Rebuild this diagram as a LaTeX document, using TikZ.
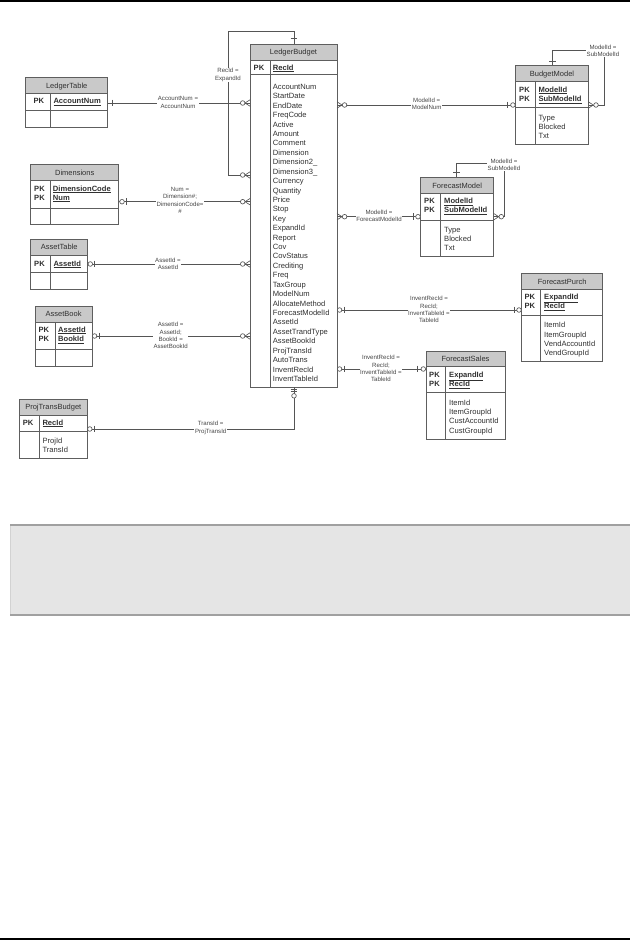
\documentclass[tikz,border=0pt]{standalone}
\usepackage{fontspec}
\setmainfont{Liberation Sans}
\usetikzlibrary{fit}
\definecolor{lnc}{HTML}{555555}
\definecolor{boxc}{HTML}{5E5E5E}
\definecolor{hdrc}{HTML}{C9C9C9}
\definecolor{txtc}{HTML}{303030}
\definecolor{lblc}{HTML}{454545}
\definecolor{bandc}{HTML}{E5E5E5}
\definecolor{bandl}{HTML}{A0A0A0}
\tikzset{
  ln/.style={draw=lnc, line width=0.7pt},
  mk/.style={draw=lnc, line width=0.65pt},
  tbox/.style={draw=boxc, line width=0.8pt, inner sep=0pt},
  boxln/.style={draw=boxc, line width=0.8pt},
  ttl/.style={font=\fontsize{7.5}{9}\selectfont, text=txtc, inner sep=0pt},
  att/.style={anchor=base west, font=\fontsize{7.6}{9.4}\selectfont, text=txtc, inner sep=0pt},
  pkb/.style={anchor=base west, font=\fontsize{7.6}{9.4}\selectfont\bfseries, text=txtc, inner sep=0pt},
  lbl/.style={font=\fontsize{6.1}{7.3}\selectfont, align=center, fill=white, inner sep=0.6pt, text=lblc}
}
\newcommand{\ertable}[9]{%
  \fill[hdrc] (#2,#3) rectangle (#4,#6);
  \node[tbox, fit={(#2,#3) (#4,#5)}] (#1) {};
  \draw[boxln] (#2,#6) -- (#4,#6) (#2,#7) -- (#4,#7) (#8,#6) -- (#8,#5);
  \node[ttl, anchor=base] (#1-title) at ({(#2+#4)/2},{(#3+#6)/2+2.7}) {#9};
}
\newcommand{\attrs}[4]{\foreach \aname [count=\ai] in {#4} {\node[att] (#1-\ai) at (#2,{#3+2.7+(\ai-1)*9.42}) {\aname};}}
\newcommand{\pkrow}[5]{% name, xpk, xname, y, text
  \node[pkb] (#1-pk) at (#2,#4+2.7) {PK};
  \node[pkb] (#1-k) at (#3,#4+2.7) {\underline{#5}};}
\newcommand{\crowL}[2]{\draw[mk] (#1-5,#2) -- (#1,#2-3.2) (#1-5,#2) -- (#1,#2+3.2);}
\newcommand{\crowR}[2]{\draw[mk] (#1+5,#2) -- (#1,#2-3.2) (#1+5,#2) -- (#1,#2+3.2);}
\newcommand{\ering}[2]{\draw[mk, fill=white] (#1,#2) circle[radius=2.3];}
\newcommand{\ervbar}[2]{\draw[mk] (#1,#2-3.3) -- (#1,#2+3.3);}
\newcommand{\erhbar}[2]{\draw[mk] (#1-3.3,#2) -- (#1+3.3,#2);}
\begin{document}
\begin{tikzpicture}[x=1pt,y=-1pt]
\useasboundingbox (0,0) rectangle (630,940);
% page rules
\draw[black, line width=1.5pt] (0,0.75) -- (630,0.75);
\draw[black, line width=1.4pt] (0,939) -- (630,939);
% grey band
\fill[bandc] (10,525) rectangle (630,615);
\draw[gray!35, line width=0.6pt] (10.3,525) -- (10.3,615);
\draw[bandl, line width=1.2pt] (10,525) -- (630,525) (10,615) -- (630,615);

% ---------- tables ----------
\ertable{LB}{250}{44}{337}{387}{60}{74}{270}{LedgerBudget}
\pkrow{LB}{253.5}{272.7}{67.5}{RecId}
\attrs{LB}{272.7}{86.7}{AccountNum,StartDate,EndDate,FreqCode,Active,Amount,Comment,Dimension,Dimension2\_,Dimension3\_,Currency,Quantity,Price,Stop,Key,ExpandId,Report,Cov,CovStatus,Crediting,Freq,TaxGroup,ModelNum,AllocateMethod,ForecastModelId,AssetId,AssetTrandType,AssetBookId,ProjTransId,AutoTrans,InventRecId,InventTableId}

\ertable{LT}{25.7}{77.3}{107.7}{127.7}{93.3}{110.7}{50.7}{LedgerTable}
\pkrow{LT}{33.3}{53.3}{101}{AccountNum}

\ertable{Dim}{30.7}{164.3}{118.7}{224.3}{180.3}{208.3}{50.7}{Dimensions}
\pkrow{Dim}{34}{52.7}{188.3}{DimensionCode}
\pkrow{Dim2}{34}{52.7}{197.3}{Num}

\ertable{AT}{30.7}{239.3}{87.7}{289.3}{255}{272.7}{50.7}{AssetTable}
\pkrow{AT}{34}{53.3}{263.5}{AssetId}

\ertable{AB}{35.3}{306}{92}{366}{322}{349}{55}{AssetBook}
\pkrow{AB}{38.3}{58}{329.5}{AssetId}
\pkrow{AB2}{38.3}{58}{339}{BookId}

\ertable{PTB}{19.3}{399}{87.3}{458.3}{415}{431.7}{39.3}{ProjTransBudget}
\pkrow{PTB}{22.7}{42.3}{422.3}{RecId}
\attrs{PTB}{42.3}{440.7}{ProjId,TransId}

\ertable{BM}{515.7}{65.7}{588.3}{144.3}{81.7}{107.3}{535.3}{BudgetModel}
\pkrow{BM}{519}{538.3}{89.3}{ModelId}
\pkrow{BM2}{519}{538.3}{98.7}{SubModelId}
\attrs{BM}{538.3}{117.3}{Type,Blocked,Txt}

\ertable{FM}{420.7}{177.3}{493.7}{256}{193.3}{220}{440.7}{ForecastModel}
\pkrow{FM}{424}{444}{200.7}{ModelId}
\pkrow{FM2}{424}{444}{210.1}{SubModelId}
\attrs{FM}{444}{229.3}{Type,Blocked,Txt}

\ertable{FP}{521.7}{273.3}{602.7}{361}{289.3}{315}{540.7}{ForecastPurch}
\pkrow{FP}{524.3}{544}{296.7}{ExpandId}
\pkrow{FP2}{524.3}{544}{306.1}{RecId}
\attrs{FP}{544}{325}{ItemId,ItemGroupId,VendAccountId,VendGroupId}

\ertable{FS}{426}{351}{505}{439.3}{366.7}{392.7}{445.7}{ForecastSales}
\pkrow{FS}{429}{449}{374.3}{ExpandId}
\pkrow{FS2}{429}{449}{383.7}{RecId}
\attrs{FS}{449}{402.3}{ItemId,ItemGroupId,CustAccountId,CustGroupId}

% ---------- connectors (lines) ----------
\draw[ln] (LT.east |- 0,103) -- (LB.west |- 0,103);
\draw[ln] (Dim.east |- 0,201.7) -- (LB.west |- 0,201.7);
\draw[ln] (AT.east |- 0,264) -- (LB.west |- 0,264);
\draw[ln] (AB.east |- 0,336) -- (LB.west |- 0,336);
\draw[ln] (LB.north -| 294,0) -- (294,31) -- (228,31) -- (228,175) -- (LB.west |- 0,175);
\draw[ln] (LB.south -| 294,0) -- (294,429) -- (PTB.east |- 0,429);
\draw[ln] (LB.east |- 0,105) -- (BM.west |- 0,105);
\draw[ln] (BM.north -| 552.3,0) -- (552.3,50) -- (604,50) -- (604,105) -- (BM.east |- 0,105);
\draw[ln] (LB.east |- 0,216.7) -- (FM.west |- 0,216.7);
\draw[ln] (FM.north -| 456.7,0) -- (456.7,163.3) -- (504,163.3) -- (504,216.7) -- (FM.east |- 0,216.7);
\draw[ln] (LB.east |- 0,310) -- (FP.west |- 0,310);
\draw[ln] (LB.east |- 0,369) -- (FS.west |- 0,369);

% ---------- markers ----------
\foreach \yy in {103,175,201.7,264,336} {\crowL{250}{\yy}\ering{242.7}{\yy}}
\ervbar{112.7}{103}
\ering{122}{201.7}\ervbar{126.8}{201.7}
\ering{90.3}{264}\ervbar{94.6}{264}
\ering{94.6}{336}\ervbar{99.3}{336}
\ering{89.8}{429}\ervbar{94.4}{429}
\erhbar{294}{38.3}
\erhbar{294}{389.3}\erhbar{294}{391.8}\ering{294}{395.8}
\crowR{337}{105}\ering{344.6}{105}
\crowR{337}{216.7}\ering{344.6}{216.7}
\ering{339.6}{310}\ervbar{344.3}{310}
\ering{339.6}{369}\ervbar{344.3}{369}
\ervbar{507.5}{105}\ering{512.9}{105}
\erhbar{552.3}{61}
\crowR{588.3}{105}\ering{596}{105}
\ervbar{413.5}{216.7}\ering{418}{216.7}
\erhbar{456.7}{172.3}
\crowR{493.7}{216.7}\ering{501.3}{216.7}
\ervbar{514.3}{310}\ering{519}{310}
\ervbar{417}{369}\ering{423.3}{369}

% ---------- connector labels ----------
\node[lbl] (l1) at (178,102.5) {AccountNum =\\AccountNum};
\node[lbl] (l2) at (228,75) {RecId =\\ExpandId};
\node[lbl] (l3) at (180,200.5) {Num =\\Dimension\#;\\DimensionCode=\\\#};
\node[lbl] (l4) at (168,264) {AssetId =\\AssetId};
\node[lbl] (l5) at (170.7,335.5) {AssetId =\\AssetId;\\BookId =\\AssetBookId};
\node[lbl] (l6) at (210.7,428) {TransId =\\ProjTransId};
\node[lbl] (l7) at (426.7,103.5) {ModelId =\\ModelNum};
\node[lbl] (l8) at (603,50.5) {ModelId =\\SubModelId};
\node[lbl] (l9) at (379,215.5) {ModelId =\\ForecastModelId};
\node[lbl] (l10) at (504,164.5) {ModelId =\\SubModelId};
\node[lbl] (l11) at (429,309.5) {InventRecId =\\RecId;\\InventTableId =\\TableId};
\node[lbl] (l12) at (381,368.5) {InventRecId =\\RecId;\\InventTableId =\\TableId};
\end{tikzpicture}
\end{document}
